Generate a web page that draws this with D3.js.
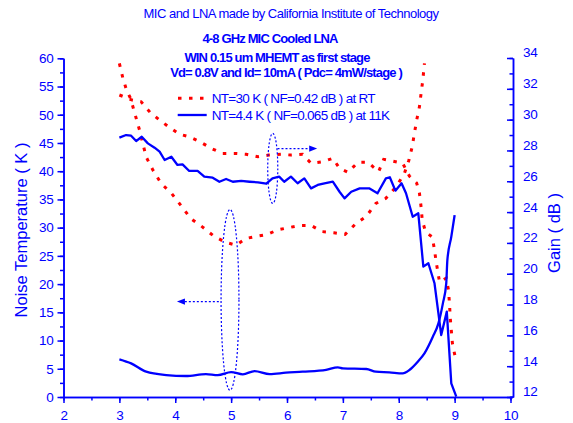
<!DOCTYPE html>
<html>
<head>
<meta charset="utf-8">
<script src="https://cdn.jsdelivr.net/npm/d3@7"></script>
<style>
  html, body { margin: 0; padding: 0; background: #ffffff; }
  svg { display: block; }
  text { font-family: Arial, "Liberation Sans", sans-serif; }
</style>
</head>
<body>
<svg id="chart" width="573" height="423"></svg>
<script>
// ---------------- data ----------------
const titleMain = "MIC and LNA made by California Institute of Technology";
const subtitleLines = [
  "4-8 GHz MIC Cooled LNA",
  "WIN 0.15 um MHEMT as first stage",
  "Vd= 0.8V and Id= 10mA ( Pdc= 4mW/stage )"
];
const legendLabels = [
  "NT=30 K ( NF=0.42 dB ) at RT",
  "NT=4.4 K ( NF=0.065 dB ) at 11K"
];
const xTicks = [2, 3, 4, 5, 6, 7, 8, 9, 10];
const yLeftTicks = [0, 5, 10, 15, 20, 25, 30, 35, 40, 45, 50, 55, 60];
const yRightTicks = [12, 14, 16, 18, 20, 22, 24, 26, 28, 30, 32, 34];

// Gain at room temperature (right axis, dB)
const freqGainRT = [3.00,3.23,3.39,3.55,3.72,3.88,4.08,4.25,4.46,4.64,4.85,5.06,5.27,5.48,5.67,5.89,6.07,6.28,6.43,6.64,6.82,6.94,7.09,7.27,7.45,7.64,7.73,7.89,8.07,8.19,8.32,8.37,8.40,8.42,8.48,8.60,8.64,8.67,8.73,8.85,8.89,8.91,8.92,8.94,8.96,9.01];
const gainRT = [31.60,31.27,31.16,30.47,29.97,29.54,29.05,28.89,28.53,28.14,27.81,27.81,27.75,27.59,27.70,27.75,27.70,27.75,27.17,27.27,27.49,26.84,26.58,27.23,27.23,26.62,27.42,27.31,27.17,26.34,25.89,25.24,24.33,23.49,22.71,22.38,21.54,20.76,19.46,19.72,18.94,17.97,17.19,16.35,15.50,14.60];

// Noise temperature at room temperature (left axis, K)
const freqNoiseRT = [3.00,3.06,3.13,3.20,3.36,3.48,3.60,3.75,3.93,4.08,4.28,4.49,4.69,4.90,5.09,5.27,5.48,5.65,5.83,6.03,6.23,6.43,6.63,6.84,7.04,7.22,7.42,7.59,7.77,7.95,8.10,8.18,8.24,8.28,8.32,8.37,8.40,8.43,8.46];
const noiseRT = [59.1,56.6,54.3,52.9,47.3,42.5,40.2,37.8,36.1,34.2,31.6,30.1,28.5,27.4,26.9,28.1,28.5,28.8,29.6,30.0,30.4,30.4,29.3,29.1,28.8,30.6,32.0,34.3,35.2,37.2,39.6,41.9,44.3,46.7,49.0,51.4,53.8,56.1,59.1];

// Gain at 11 K (right axis, dB)
const freqGain11K = [3.00,3.12,3.21,3.30,3.40,3.51,3.63,3.72,3.81,3.93,4.04,4.13,4.25,4.40,4.52,4.67,4.79,4.91,5.03,5.18,5.33,5.48,5.63,5.74,5.86,5.95,6.07,6.19,6.31,6.43,6.55,6.67,6.82,6.94,7.03,7.15,7.30,7.47,7.62,7.77,7.84,7.94,8.05,8.13,8.25,8.35,8.44,8.53,8.64,8.71,8.76,8.86,8.94,9.03];
const gain11K = [28.83,29.00,28.96,28.61,28.89,28.46,28.18,27.92,27.38,27.59,27.06,27.10,26.67,26.67,26.30,26.23,25.97,26.15,25.97,26.02,25.97,25.93,25.84,26.19,26.30,25.97,26.30,25.87,26.19,25.54,25.76,25.87,25.97,25.32,24.89,25.32,25.54,25.54,25.22,26.19,26.26,25.39,25.87,25.22,23.70,23.92,20.46,20.68,19.38,17.43,16.02,17.54,12.89,12.02];

// Noise temperature at 11 K (left axis, K)
const freqNoise11K = [3.00,3.21,3.48,3.84,4.19,4.55,4.76,5.00,5.21,5.42,5.69,5.98,6.28,6.70,6.91,7.00,7.42,7.59,7.83,8.07,8.19,8.34,8.46,8.61,8.71,8.79,8.85,8.87,8.94,9.00];
const noise11K = [6.67,5.96,4.48,3.89,3.72,4.07,3.89,4.42,4.02,4.60,4.07,4.30,4.48,4.81,5.26,5.08,4.96,4.48,4.37,4.19,4.78,6.25,7.73,10.67,13.04,16.58,20.12,24.25,28.37,32.21];

// Annotation ellipses (center freq, center left-axis value, half-width GHz, half-height K)
const ellipseCx = [5.745, 4.98];
const ellipseCy = [40.5, 17.2];
const ellipseRx = [0.09, 0.16];
const ellipseRy = [6.2, 16.0];
// Annotation arrows (from freq, to freq, at left-axis value)
const arrowFrom = [5.83, 4.78];
const arrowTo = [6.54, 4.03];
const arrowAt = [44.0, 16.9];

// ---------------- drawing ----------------
const BLUE = "#0000ff";
const RED = "#ff0000";
const svg = d3.select("#chart");
svg.append("rect").attr("width", 573).attr("height", 423).attr("fill", "#fff");

const x = d3.scaleLinear().domain([2, 10]).range([63.5, 510.5]);
const yL = d3.scaleLinear().domain([0, 60]).range([397, 58.3]);
const yR = d3.scaleLinear().domain([12, 34]).range([397, 58]);
const rightX = 513;

// Titles
svg.append("text").attr("x", 291).attr("y", 18).attr("text-anchor", "middle")
  .attr("font-size", 13).attr("letter-spacing", -0.5).attr("fill", BLUE).text(titleMain);
const subY = [43.3, 61.5, 76.7];
const subX = [270, 277, 286];
subtitleLines.forEach((t, i) => {
  svg.append("text").attr("x", subX[i]).attr("y", subY[i]).attr("text-anchor", "middle")
    .attr("font-size", 13).attr("font-weight", "bold").attr("letter-spacing", -0.85)
    .attr("fill", BLUE).text(t);
});

// Axes
function styleAxis(g) {
  g.selectAll("path, line").attr("stroke", BLUE).attr("stroke-width", 1.5);
  g.selectAll("text").attr("fill", BLUE).attr("font-size", 13.5)
    .attr("font-family", "Arial, 'Liberation Sans', sans-serif").attr("letter-spacing", -0.3);
}

// bottom minor
svg.append("g").attr("transform", `translate(0,397)`)
  .call(d3.axisBottom(x).tickValues(d3.range(2, 10.01, 0.5)).tickSize(3.5).tickSizeOuter(0).tickFormat(""))
  .call(styleAxis);
svg.append("g").attr("transform", `translate(0,397)`)
  .call(d3.axisBottom(x).tickValues(xTicks).tickSize(6).tickSizeOuter(0).tickPadding(7).tickFormat(d3.format("d")))
  .call(styleAxis);
svg.append("line").attr("x1", x(10)).attr("x2", rightX + 0.75).attr("y1", 397).attr("y2", 397)
  .attr("stroke", BLUE).attr("stroke-width", 1.5);

// left
svg.append("g").attr("transform", `translate(63.5,0)`)
  .call(d3.axisLeft(yL).tickValues(d3.range(0, 60.01, 2.5)).tickSize(3.5).tickSizeOuter(0).tickFormat(""))
  .call(styleAxis);
svg.append("g").attr("transform", `translate(63.5,0)`)
  .call(d3.axisLeft(yL).tickValues(yLeftTicks).tickSize(6).tickSizeOuter(0).tickPadding(4).tickFormat(d3.format("d")))
  .call(styleAxis);

// right (ticks inward)
svg.append("g").attr("transform", `translate(${rightX},0)`)
  .call(d3.axisRight(yR).tickValues(d3.range(12, 34.01, 1)).tickSize(-3.5).tickSizeOuter(0).tickFormat(""))
  .call(styleAxis);
const gR = svg.append("g").attr("transform", `translate(${rightX},0)`)
  .call(d3.axisRight(yR).tickValues(yRightTicks).tickSize(-6).tickSizeOuter(0).tickPadding(10).tickFormat(d3.format("d")))
  .call(styleAxis);
gR.selectAll("text").attr("dy", "-0.08em");

// Axis titles
svg.append("text").attr("transform", "translate(26.5,230) rotate(-90)")
  .attr("text-anchor", "middle").attr("font-size", 16.5).attr("fill", BLUE)
  .text("Noise Temperature ( K )");
svg.append("text").attr("transform", "translate(560,233) rotate(-90)")
  .attr("text-anchor", "middle").attr("font-size", 16.5).attr("fill", BLUE)
  .text("Gain ( dB )");

// Lines
const lineR = d3.line().x(d => x(d[0])).y(d => yR(d[1]));
const lineL = d3.line().x(d => x(d[0])).y(d => yL(d[1]));
const lineLsmooth = d3.line().x(d => x(d[0])).y(d => yL(d[1])).curve(d3.curveMonotoneX);

svg.append("path").datum(d3.zip(freqGainRT, gainRT)).attr("d", lineR)
  .attr("fill", "none").attr("stroke", RED).attr("stroke-width", 3).attr("stroke-dasharray", "3.5,7.5");
svg.append("path").datum(d3.zip(freqNoiseRT, noiseRT)).attr("d", lineL)
  .attr("fill", "none").attr("stroke", RED).attr("stroke-width", 3).attr("stroke-dasharray", "3.5,7.5");
svg.append("path").datum(d3.zip(freqGain11K, gain11K)).attr("d", lineR)
  .attr("fill", "none").attr("stroke", BLUE).attr("stroke-width", 2.3).attr("stroke-linejoin", "round");
svg.append("path").datum(d3.zip(freqNoise11K, noise11K)).attr("d", lineLsmooth)
  .attr("fill", "none").attr("stroke", BLUE).attr("stroke-width", 2.3).attr("stroke-linejoin", "round");

// Annotations
ellipseCx.forEach((c, i) => {
  svg.append("ellipse")
    .attr("cx", x(c)).attr("cy", yL(ellipseCy[i]))
    .attr("rx", x(c + ellipseRx[i]) - x(c))
    .attr("ry", yL(ellipseCy[i] - ellipseRy[i]) - yL(ellipseCy[i]))
    .attr("fill", "none").attr("stroke", BLUE).attr("stroke-width", 1.2).attr("stroke-dasharray", "2,2");
});
arrowFrom.forEach((f, i) => {
  const x1 = x(f), x2 = x(arrowTo[i]), yy = yL(arrowAt[i]);
  const dir = x2 > x1 ? 1 : -1;
  const headLen = 8, headW = 3.2;
  svg.append("line").attr("x1", x1).attr("x2", x2 - dir * headLen).attr("y1", yy).attr("y2", yy)
    .attr("stroke", BLUE).attr("stroke-width", 1.3).attr("stroke-dasharray", "2,2");
  svg.append("path")
    .attr("d", `M${x2},${yy}L${x2 - dir * headLen},${yy - headW}L${x2 - dir * headLen},${yy + headW}Z`)
    .attr("fill", BLUE);
});

// Legend
svg.append("line").attr("x1", 178).attr("x2", 205).attr("y1", 98.3).attr("y2", 98.3)
  .attr("stroke", RED).attr("stroke-width", 3).attr("stroke-dasharray", "3.5,7.5");
svg.append("line").attr("x1", 177.7).attr("x2", 206.7).attr("y1", 115).attr("y2", 115)
  .attr("stroke", BLUE).attr("stroke-width", 2.3);
legendLabels.forEach((t, i) => {
  svg.append("text").attr("x", 211.7).attr("y", [103.3, 120][i])
    .attr("font-size", 13.5).attr("letter-spacing", -0.7).attr("fill", BLUE).text(t);
});
</script>
</body>
</html>
